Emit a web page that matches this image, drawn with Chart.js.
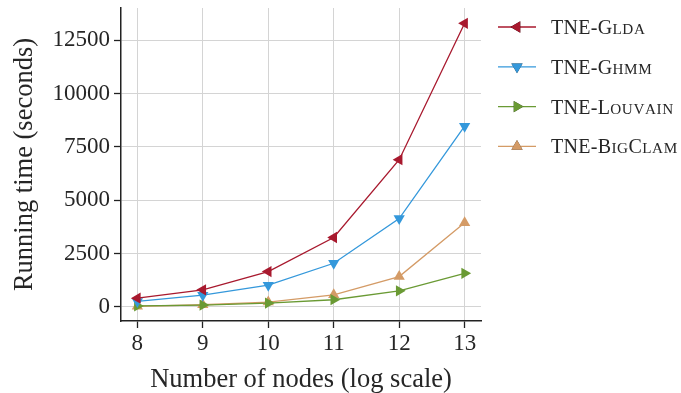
<!DOCTYPE html>
<html>
<head>
<meta charset="utf-8">
<script src="https://cdn.jsdelivr.net/npm/chart.js@4/dist/chart.umd.min.js"></script>
<style>
  html, body { margin: 0; padding: 0; background: #fff; }
  #wrap { width: 681px; height: 393px; }
</style>
</head>
<body>
<div id="wrap"><canvas id="grafico" width="681" height="393"></canvas></div>
<script>
// valores (tempo em segundos)
const nodes = [8, 9, 10, 11, 12, 13];
const glda = [405, 795, 1650, 3250, 6900, 13300];
const ghmm = [250, 545, 1010, 2040, 4140, 8470];
const louvain = [40, 80, 175, 330, 750, 1570];
const bigclam = [20, 95, 220, 560, 1415, 3940];

const seriesNames = ['TNE-Glda', 'TNE-Ghmm', 'TNE-Louvain', 'TNE-BigClam'];
const xTicks = [8, 9, 10, 11, 12, 13];
const yTicks = [0, 2500, 5000, 7500, 10000, 12500];

const FONT = "'Liberation Serif', 'DejaVu Serif', serif";
const TEXT = '#262626';

function serie(label, values, color, rotation) {
  return {
    label: label,
    data: nodes.map((n, i) => ({ x: n, y: values[i] })),
    borderColor: color,
    backgroundColor: color,
    borderWidth: 1.3,
    pointStyle: 'triangle',
    pointRotation: rotation,
    pointRadius: 6.5,
    pointBorderWidth: 0,
    tension: 0
  };
}

// desenha texto em "small caps": maiúsculas em tamanho cheio, minúsculas menores
function smallCaps(ctx, text, x, y, size) {
  let cx = x;
  for (const ch of text) {
    const lower = ch !== ch.toUpperCase();
    ctx.font = (lower ? size * 0.76 : size) + 'px ' + FONT;
    const c = lower ? ch.toUpperCase() : ch;
    ctx.fillText(c, cx, y);
    cx += ctx.measureText(c).width + (lower ? 0.6 : 0.3);
  }
}

// legenda desenhada à direita da área do gráfico
const legendaLateral = {
  id: 'legendaLateral',
  afterDraw(chart) {
    const ctx = chart.ctx;
    ctx.save();
    chart.data.datasets.forEach((ds, i) => {
      const y = 27 + i * 39.8;
      ctx.strokeStyle = ds.borderColor;
      ctx.lineWidth = ds.borderWidth;
      ctx.beginPath();
      ctx.moveTo(498, y);
      ctx.lineTo(536, y);
      ctx.stroke();
      Chart.helpers.drawPoint(ctx, {
        pointStyle: 'triangle',
        rotation: ds.pointRotation,
        radius: ds.pointRadius,
        borderWidth: 0
      }, 517, y);
      ctx.fillStyle = ds.borderColor;
      ctx.fill();
      ctx.fillStyle = TEXT;
      ctx.textBaseline = 'alphabetic';
      ctx.textAlign = 'left';
      smallCaps(ctx, ds.label, 551, y + 7, 20);
    });
    ctx.restore();
  }
};

new Chart(document.getElementById('grafico').getContext('2d'), {
  type: 'line',
  data: {
    datasets: [
      serie(seriesNames[0], glda, '#a8192e', -90),
      serie(seriesNames[1], ghmm, '#3498db', 180),
      serie(seriesNames[2], louvain, '#6a9a34', 90),
      serie(seriesNames[3], bigclam, '#d49b66', 0)
    ]
  },
  options: {
    responsive: false,
    animation: false,
    devicePixelRatio: 1,
    layout: { padding: { left: 5, right: 200, top: 8, bottom: 0 } },
    plugins: { legend: { display: false }, tooltip: { enabled: false } },
    scales: {
      x: {
        type: 'linear',
        min: 7.75,
        max: 13.25,
        afterBuildTicks: s => { s.ticks = xTicks.map(v => ({ value: v })); },
        afterFit: s => { s.height = 72; s.paddingLeft = 0; s.paddingRight = 0; },
        grid: { color: '#d4d4d4', lineWidth: 1, tickLength: 7, tickColor: '#222', tickWidth: 1.3 },
        border: { color: '#222', width: 1.5 },
        ticks: {
          color: TEXT, font: { family: FONT, size: 23, lineHeight: 0.7 }, padding: 8, maxRotation: 0,
          callback: v => String(v)
        },
        title: { display: true, text: 'Number of nodes (log scale)', color: TEXT, font: { family: FONT, size: 26.5, lineHeight: 1.0 }, padding: { top: 13, bottom: 0 } }
      },
      y: {
        min: -668,
        max: 14018,
        afterBuildTicks: s => { s.ticks = yTicks.map(v => ({ value: v })); },
        afterFit: s => { s.width = 116; s.paddingTop = 0; s.paddingBottom = 0; },
        grid: { color: '#d4d4d4', lineWidth: 1, tickLength: 7, tickColor: '#222', tickWidth: 1.3 },
        border: { color: '#222', width: 1.5 },
        ticks: {
          color: TEXT, font: { family: FONT, size: 23, lineHeight: 0.7 }, padding: 4,
          callback: v => String(v)
        },
        title: { display: true, text: 'Running time (seconds)', color: TEXT, font: { family: FONT, size: 26.5 }, padding: { bottom: 0 } }
      }
    }
  },
  plugins: [legendaLateral]
});
</script>
</body>
</html>
